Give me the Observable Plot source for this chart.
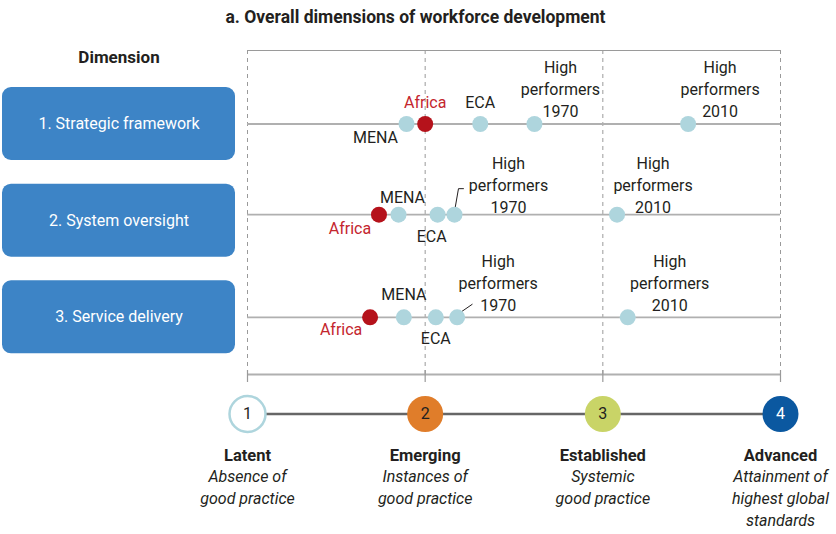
<!DOCTYPE html>
<html><head><meta charset="utf-8">
<script src="https://cdn.jsdelivr.net/npm/d3@7"></script>
<script src="https://cdn.jsdelivr.net/npm/@observablehq/plot@0.6"></script>
<style>body{margin:0;background:#fff;font-family:Roboto,sans-serif}</style>
</head><body><div id="chart"></div>
<script>
// ---- data ----
const title = "a. Overall dimensions of workforce development";
const dimensionHeader = "Dimension";
const dimensions = ["1. Strategic framework", "2. System oversight", "3. Service delivery"];
const groupNames = ["Africa", "MENA", "ECA", "High\nperformers\n1970", "High\nperformers\n2010"];
const africa = [2.00, 1.74, 1.69];
const mena = [1.895, 1.85, 1.88];
const eca = [2.31, 2.07, 2.06];
const hp1970 = [2.615, 2.165, 2.18];
const hp2010 = [3.48, 3.08, 3.14];
const levels = [1, 2, 3, 4];
const levelNames = ["Latent", "Emerging", "Established", "Advanced"];
const levelDescriptions = ["Absence of\ngood practice", "Instances of\ngood practice", "Systemic\ngood practice", "Attainment of\nhighest global\nstandards"];

// ---- layout (code, not data) ----
const W = 836, H = 534;
const X0 = 247, X1 = 780;          // pixel range of levels 1..4
const Y0 = 123.5, Y1 = 413.5;      // pixel range of rows 1..4
const pxX = 3 / (X1 - X0);         // data units per px
const pxY = 3 / (Y1 - Y0);
const fromPxX = p => 1 + (p - X0) * pxX;
const fromPxY = p => 1 + (p - Y0) * pxY;
const TOP = fromPxY(50), BOTTOM = fromPxY(374);
const rowLineY = i => (i + 1) + (i === 1 ? -6 * pxY : 0);

const seriesValues = [africa, mena, eca, hp1970, hp2010];
// label offsets (px) per row per group: [dx, dy]
const offsets = [
  [[0, -23], [-31, 12], [0, -23], [26, -36], [32, -36]],
  [[-29, 12], [4, -19], [-6, 20], [54, -31], [36, -31]],
  [[-29, 11], [0, -24], [0, 20], [41, -35], [42, -35]]
];
const colorDot = "#aed5dd", colorRed = "#b5121b", colorRedText = "#c4262e", ink = "#231f20";

const points = [];
dimensions.forEach((d, i) => {
  groupNames.forEach((g, j) => {
    const v = seriesValues[j][i];
    const [dx, dy] = offsets[i][j];
    points.push({
      row: i, name: g, x: v, y: rowLineY(i),
      lx: v + dx * pxX, ly: rowLineY(i) + dy * pxY,
      africa: j === 0
    });
  });
});

// leader lines for High performers 1970 in rows 2 and 3 (px offsets from dot)
const leaders = [];
const leaderDefs = [
  {row: 1, pts: [[0, -3], [4, -26], [9, -26]]},
  {row: 2, pts: [[2, -4], [15, -13]]}
];
leaderDefs.forEach(({row, pts}) => {
  const v = hp1970[row], yy = rowLineY(row);
  pts.forEach(([dx, dy]) => leaders.push({row, x: v + dx * pxX, y: yy + dy * pxY}));
});

const boxX1 = fromPxX(2), boxX2 = fromPxX(235), boxHalf = 36.5 * pxY;
const boxes = dimensions.map((d, i) => ({name: d, x1: boxX1, x2: boxX2, y1: i + 1 - boxHalf, y2: i + 1 + boxHalf, xc: (boxX1 + boxX2) / 2, yc: i + 1}));

const stageFill = ["#ffffff", "#e07d2a", "#c9d467", "#0b58a0"];
const stageStroke = ["#aed5dd", "none", "none", "none"];
const stageText = [ink, ink, ink, "#ffffff"];
const stages = levels.map((l, i) => ({level: l, name: levelNames[i], desc: levelDescriptions[i], fill: stageFill[i], stroke: stageStroke[i], tc: stageText[i]}));

const chart = Plot.plot({
  width: W, height: H,
  margin: 0,
  x: {domain: [1, 4], range: [X0, X1], axis: null},
  y: {domain: [1, 4], range: [Y0, Y1], axis: null},
  style: {fontFamily: "Roboto, sans-serif", background: "white"},
  marks: [
    // title & header
    Plot.text([title], {frameAnchor: "top", lineAnchor: "middle", dy: 17, dx: -3, fontWeight: "bold", fontSize: 17.5, fill: ink}),
    Plot.text([dimensionHeader], {x: boxes[0].xc, y: TOP, dy: 7, fontWeight: "bold", fontSize: 17, fill: ink}),
    // grid frame
    Plot.ruleX(levels, {x: d => d, y1: TOP, y2: BOTTOM, stroke: "#9a9a9a", strokeWidth: 1, strokeDasharray: "4,4"}),
    Plot.ruleY([TOP], {x1: 1, x2: 4, stroke: "#9a9a9a", strokeWidth: 1.2}),
    Plot.ruleY([BOTTOM], {x1: 1, x2: 4, stroke: "#b0b0b0", strokeWidth: 2}),
    Plot.ruleX(levels, {x: d => d, y1: BOTTOM - 4 * pxY, y2: BOTTOM + 8 * pxY, stroke: "#9a9a9a", strokeWidth: 1.2}),
    Plot.ruleY(dimensions.map((d, i) => rowLineY(i)), {x1: 1, x2: 4, stroke: "#b0b0b0", strokeWidth: 1.8}),
    // boxes
    Plot.rect(boxes, {x1: "x1", x2: "x2", y1: "y1", y2: "y2", fill: "#3d84c6", rx: 9}),
    Plot.text(boxes, {x: "xc", y: "yc", text: "name", fill: "white", fontSize: 16}),
    // leaders
    Plot.line(leaders, {x: "x", y: "y", z: "row", stroke: ink, strokeWidth: 1}),
    // dots
    Plot.dot(points, {x: "x", y: "y", r: 8, fill: d => d.africa ? colorRed : colorDot}),
    Plot.text(points, {x: "lx", y: "ly", text: "name", fontSize: 16, lineHeight: 1.38, fill: d => d.africa ? colorRedText : ink}),
    // stage scale
    Plot.ruleY([4], {x1: 1, x2: 4, stroke: "#666", strokeWidth: 2.5}),
    Plot.dot(stages, {x: "level", y: 4, r: 18, fill: "fill", stroke: "stroke", strokeWidth: 2.5}),
    Plot.text(stages, {x: "level", y: 4, text: d => String(d.level), fill: "tc", fontSize: 16}),
    Plot.text(stages, {x: "level", y: 4, dy: 41.5, text: "name", fontWeight: "bold", fontSize: 16.5, fill: ink}),
    Plot.text(stages, {x: "level", y: 4, dy: 53, lineAnchor: "top", lineHeight: 1.35, text: "desc", fontStyle: "italic", fontSize: 16, fill: ink})
  ]
});
document.getElementById("chart").appendChild(chart);
</script>
</body></html>
